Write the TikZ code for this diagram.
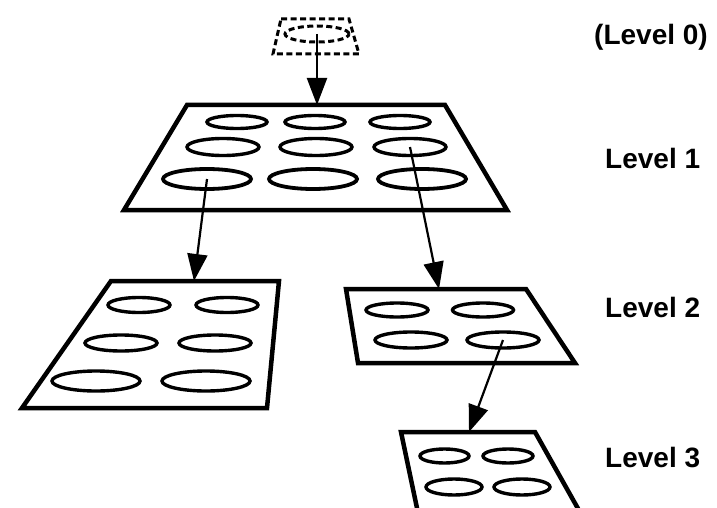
\documentclass[tikz,border=0pt]{standalone}
\usepackage{fontspec}
\setmainfont{Liberation Sans}
\usetikzlibrary{shapes.geometric,arrows.meta}
\tikzset{
  plate/.style={draw, line width=4.5pt, line join=miter, fill=white},
  hole/.style={draw, shape=ellipse, line width=3.4pt, inner sep=0pt, minimum width=#1},
  hole/.default=60pt,
  ghost/.style={draw, line width=3pt, dash pattern=on 6pt off 3.5pt},
  link/.style={line width=2.2pt, -{Triangle[length=27pt,width=20pt]}},
  lvl/.style={anchor=base west, font=\fontsize{28}{30}\selectfont\bfseries, inner sep=0pt}
}
\begin{document}
\begin{tikzpicture}[x=1pt,y=-1pt]
\useasboundingbox (0,0) rectangle (717,508);
\clip (0,0) rectangle (717,508);
\fill[white] (0,0) rectangle (717,508);

% Level 0: dashed outline of the root cell
\draw[ghost] (281,19) -- (349,19) -- (359,54) -- (273,54) -- cycle;
\node[ghost, shape=ellipse, inner sep=0pt, minimum width=64pt, minimum height=16pt] (r0) at (317,34) {};

% Level 1 plate
\draw[plate] (187,105) -- (445,105) -- (507,210) -- (124,210) -- cycle;
\coordinate (t1) at (317,105);
\foreach \x/\n in {237/a,315/b,400/c}
  \node[hole=60pt, minimum height=13pt] (p1\n) at (\x,122) {};
\foreach \x/\n in {223/d,316/e,410/f}
  \node[hole=72pt, minimum height=17pt] (p1\n) at (\x,147) {};
\foreach \x/\n in {207/g,313/h,422/i}
  \node[hole=88pt, minimum height=20pt, line width=3.8pt] (p1\n) at (\x,179) {};

% Level 2, left plate
\draw[plate] (111,281) -- (279,281) -- (267,408) -- (22,408) -- cycle;
\coordinate (t2l) at (194,281);
\node[hole=62pt, minimum height=15pt] (p2a) at (139,305) {};
\node[hole=62pt, minimum height=15pt] (p2b) at (227,305) {};
\node[hole=72pt, minimum height=16pt] (p2c) at (121,343) {};
\node[hole=72pt, minimum height=16pt] (p2d) at (215,343) {};
\node[hole=88pt, minimum height=20pt] (p2e) at (96,381) {};
\node[hole=88pt, minimum height=20pt] (p2f) at (206,381) {};

% Level 2, right plate
\draw[plate] (346,289) -- (526,289) -- (575,363) -- (358,363) -- cycle;
\coordinate (t2r) at (439,289);
\node[hole=62pt, minimum height=14pt] (q2a) at (397,310) {};
\node[hole=61pt, minimum height=14pt] (q2b) at (483,310) {};
\node[hole=72pt, minimum height=16pt] (q2c) at (411,340) {};
\node[hole=72pt, minimum height=16pt] (q2d) at (503,340) {};

% Level 3 plate (runs past the lower edge)
\draw[plate] (401,432) -- (535,432) -- (590,530) -- (421.6,530) -- cycle;
\coordinate (t3) at (469,432);
\node[hole=49pt, minimum height=14pt] (p3a) at (444.5,456) {};
\node[hole=50pt, minimum height=14pt] (p3b) at (508,456) {};
\node[hole=56pt, minimum height=16pt] (p3c) at (454,487) {};
\node[hole=56pt, minimum height=16pt] (p3d) at (522,487) {};

% Refinement links
\draw[link] (r0.center) -- (t1);
\draw[link] (p1g.center) -- (t2l);
\draw[link] (p1f.center) -- (t2r);
\draw[link] (q2d.center) -- (t3);

% Level labels
\node[lvl] (l0) at (594,45) {(Level 0)};
\node[lvl] (l1) at (605,168) {Level 1};
\node[lvl] (l2) at (605,317) {Level 2};
\node[lvl] (l3) at (605,467) {Level 3};
\end{tikzpicture}
\end{document}
